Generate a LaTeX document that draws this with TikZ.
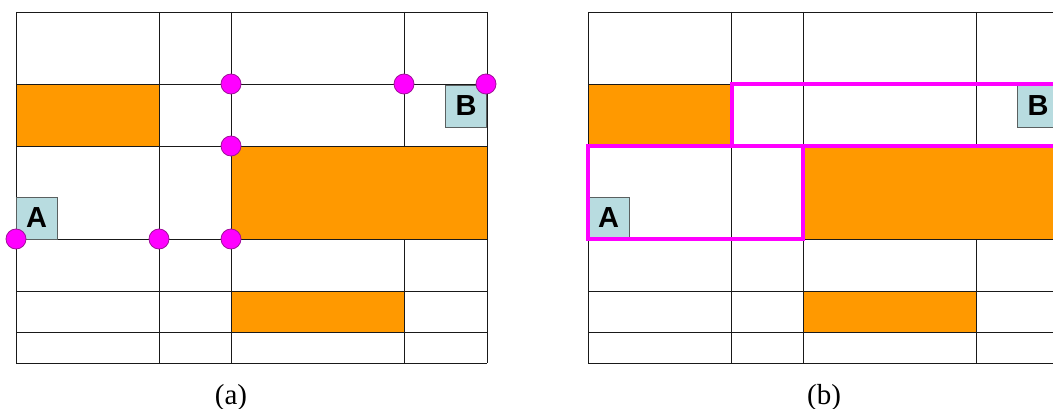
\documentclass[tikz,border=0pt]{standalone}
\usepackage{fontspec}
\setmainfont{Liberation Serif}
\newfontfamily\labelfont{Liberation Sans}
\definecolor{blockorange}{HTML}{FF9900}
\definecolor{pathpink}{HTML}{FF00FF}
\definecolor{dotedge}{HTML}{A0109A}
\definecolor{tagfill}{HTML}{B8DCE0}
\definecolor{tagedge}{HTML}{5A6060}
\begin{document}
\begin{tikzpicture}[x=1pt,y=-1pt,
  gridline/.style={draw=black!90,line width=0.9pt},
  block/.style={fill=blockorange},
  tag/.style={fill=tagfill,draw=tagedge,line width=0.9pt,inner sep=0pt,
    minimum width=41pt,minimum height=42pt,
    font=\labelfont\bfseries\fontsize{29}{29}\selectfont},
  vertexdot/.style={circle,fill=pathpink,draw=dotedge,line width=0.8pt,
    minimum size=20pt,inner sep=0pt},
  region/.style={draw=pathpink,line width=4pt,line join=miter},
  caption/.style={font=\fontsize{29}{29}\selectfont,anchor=base}]
\useasboundingbox (0,0) rectangle (1053,409);
\clip (0,0) rectangle (1053,409);
\fill[white] (0,0) rectangle (1053,409);

% floor plan grid with obstacles; drawn once per panel
\foreach \dx in {0,572}{
  \begin{scope}[xshift=\dx pt]
    \fill[block] (16,84) rectangle (159,146);
    \fill[block] (231,146) rectangle (487,239);
    \fill[block] (231,291) rectangle (404,332);
    \draw[gridline]
      (16,12) -- (487,12)  (16,84) -- (487,84)  (16,146) -- (487,146)
      (16,239) -- (487,239) (16,291) -- (487,291) (16,332) -- (487,332)
      (16,363) -- (487,363)
      (16,12) -- (16,363) (159,12) -- (159,363) (231,12) -- (231,363)
      (487,12) -- (487,363)
      (404,12) -- (404,146) (404,239) -- (404,363);
  \end{scope}
}

% panel (a): start and goal tags, candidate vertices
\node[tag] (tagA) at (36.5,218) {A};
\node[tag] (tagB) at (466,106) {B};
\node[vertexdot] (v1) at (231,84) {};
\node[vertexdot] (v2) at (404,84) {};
\node[vertexdot] (v3) at (486,84) {};
\node[vertexdot] (v4) at (231,146) {};
\node[vertexdot] (v5) at (16,239) {};
\node[vertexdot] (v6) at (159,239) {};
\node[vertexdot] (v7) at (231,239) {};
\node[caption] (capA) at (231,404) {(a)};

% panel (b): start and goal tags, free regions
\node[tag] (tagA2) at (608.5,218) {A};
\node[tag] (tagB2) at (1038,106) {B};
\draw[region] (732,84) rectangle (1070,146);
\draw[region] (588,146) rectangle (803,239);
\node[caption] (capB) at (824,404) {(b)};
\end{tikzpicture}
\end{document}
